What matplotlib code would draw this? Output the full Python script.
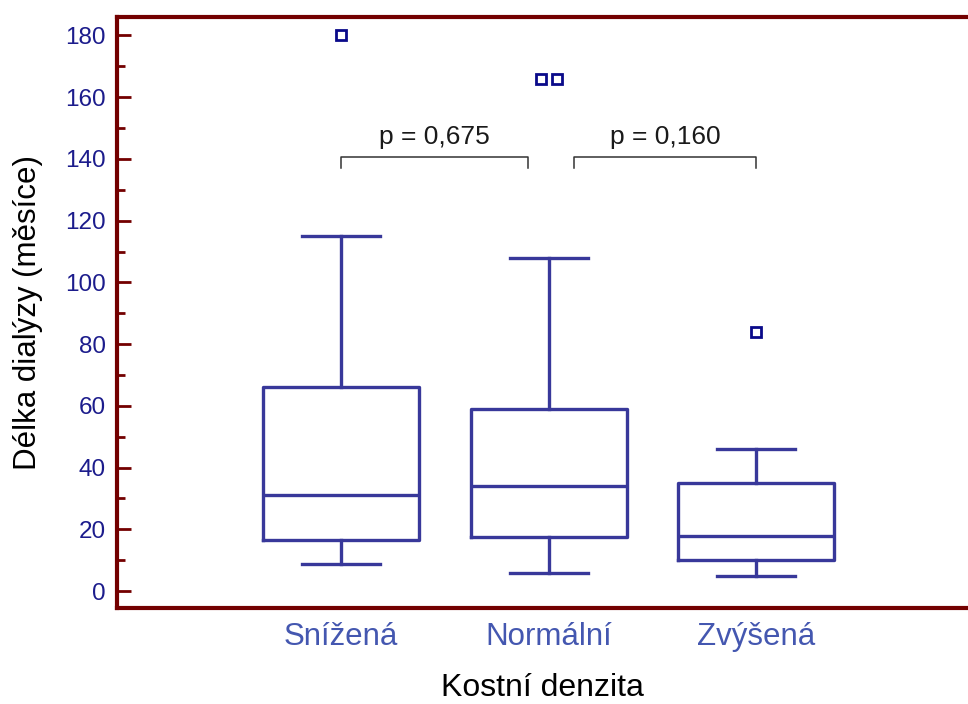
import numpy as np
import matplotlib.pyplot as plt
from matplotlib.ticker import MultipleLocator

plt.rcParams['font.family'] = ['Liberation Sans', 'DejaVu Sans']

# kostni denzita - delka dialyzy (mesice)
skupiny = ['Snížená', 'Normální', 'Zvýšená']
dolni_vous = [8.7, 5.8, 4.9]
q1 = [16.5, 17.5, 10.0]
median = [31.0, 34.0, 17.8]
q3 = [66.0, 59.0, 35.0]
horni_vous = [115.0, 108.0, 46.0]
odlehle = [[180.0], [166.0, 166.0], [84.0]]

# porovnani skupin
p_dvojice = [(0, 1), (1, 2)]
p_hodnoty = ['p = 0,675', 'p = 0,160']

box_col = '#38389a'
out_col = '#0a0a8a'
spine_col = '#730000'

fig = plt.figure(figsize=(9.68, 7.04), dpi=100)
ax = fig.add_axes([0.1209, 0.1364, 0.8791, 0.8395])

pos = np.arange(1, len(skupiny) + 1)
stats = []
for i in range(len(skupiny)):
    stats.append({'whislo': dolni_vous[i], 'q1': q1[i], 'med': median[i],
                  'q3': q3[i], 'whishi': horni_vous[i], 'fliers': []})

lw = 2.4
ax.bxp(stats, positions=pos, widths=0.75, showfliers=False,
       boxprops=dict(color=box_col, lw=lw),
       medianprops=dict(color=box_col, lw=lw),
       whiskerprops=dict(color=box_col, lw=lw),
       capprops=dict(color=box_col, lw=lw),
       capwidths=0.375)

# odlehle hodnoty, stejne hodnoty vedle sebe
for i, vals in enumerate(odlehle):
    n = len(vals)
    dx = (np.arange(n) - (n - 1) / 2) * 0.077
    ax.plot(pos[i] + dx, vals, ls='none', marker='s', ms=6.5, mfc='white',
            mec=out_col, mew=2.0)

# zavorky s p-hodnotami
y_top = 140.5
y_bot = 137.0
for (a, b), txt in zip(p_dvojice, p_hodnoty):
    x0 = pos[a] + (0.12 if a > 0 else 0)
    x1 = pos[b] - (0.1 if b < len(skupiny) - 1 else 0)
    ax.plot([x0, x0, x1, x1], [y_bot, y_top, y_top, y_bot], color='#333333', lw=1.1)
    ax.text((x0 + x1) / 2, y_top + 2.6, txt, ha='center', va='bottom',
            fontsize=19, color='#1a1a1a')

ax.set_xlim(-0.08, 4.02)
ax.set_ylim(-5.5, 186)
ax.yaxis.set_major_locator(MultipleLocator(20))
ax.yaxis.set_minor_locator(MultipleLocator(10))
ax.set_xticks(pos)
ax.set_xticklabels(skupiny, fontsize=22.5, color='#4457b0')
ax.tick_params(axis='x', length=0, pad=10)
ax.tick_params(axis='y', which='major', direction='in', length=10, width=2,
               color=spine_col, labelsize=17.5, labelcolor='#1c1c8c', pad=8)
ax.tick_params(axis='y', which='minor', direction='in', length=6, width=2,
               color=spine_col)

for s in ['left', 'top', 'bottom']:
    ax.spines[s].set_color(spine_col)
    ax.spines[s].set_linewidth(3)
ax.spines['right'].set_visible(False)

ax.set_ylabel('Délka dialýzy (měsíce)', fontsize=22.5, labelpad=16)
ax.set_xlabel('Kostní denzita', fontsize=23, labelpad=15)

fig.savefig('out.png', dpi=100)
